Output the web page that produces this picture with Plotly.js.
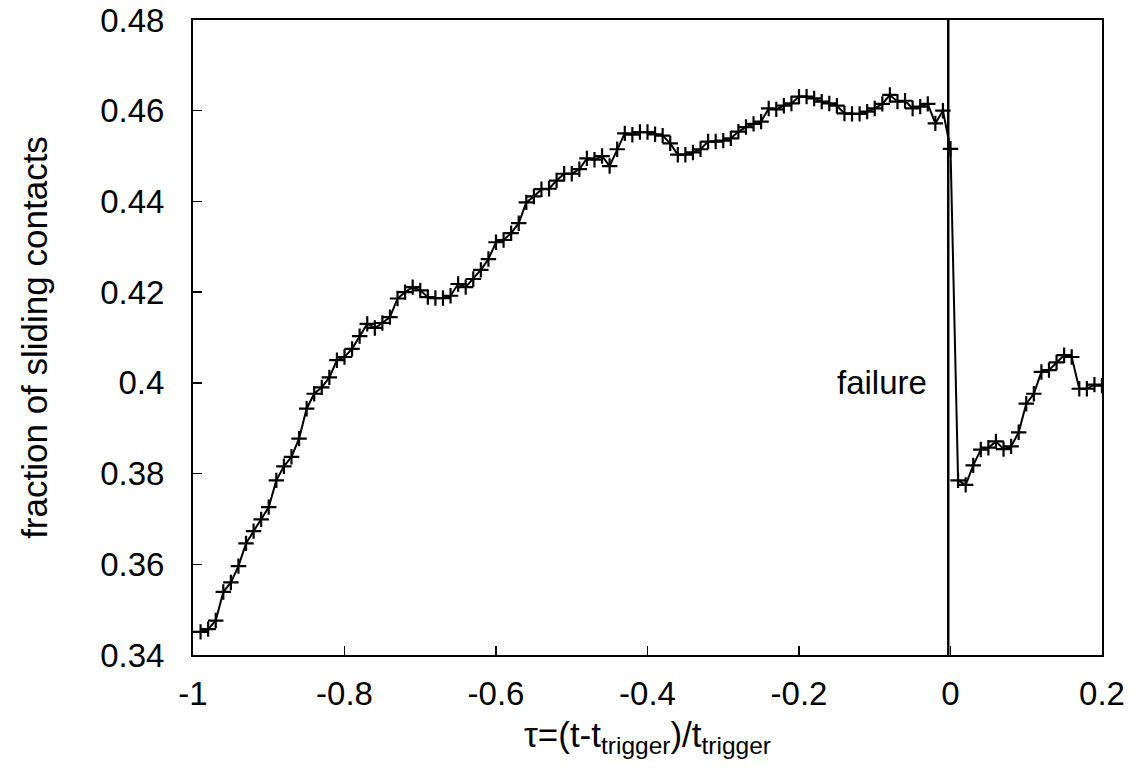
<!DOCTYPE html>
<html>
<head>
<meta charset="utf-8">
<script src="https://cdn.plot.ly/plotly-3.0.1.min.js"></script>
<style>html,body{margin:0;padding:0;background:#fff;}#chart{width:1140px;height:770px;}</style>
</head>
<body>
<div id="chart"></div>
<script>
const tau = [
 -0.99,-0.98,-0.97,-0.96,-0.95,-0.94,-0.93,-0.92,-0.91,-0.90,
 -0.89,-0.88,-0.87,-0.86,-0.85,-0.84,-0.83,-0.82,-0.81,-0.80,
 -0.79,-0.78,-0.77,-0.76,-0.75,-0.74,-0.73,-0.72,-0.71,-0.70,
 -0.69,-0.68,-0.67,-0.66,-0.65,-0.64,-0.63,-0.62,-0.61,-0.60,
 -0.59,-0.58,-0.57,-0.56,-0.55,-0.54,-0.53,-0.52,-0.51,-0.50,
 -0.49,-0.48,-0.47,-0.46,-0.45,-0.44,-0.43,-0.42,-0.41,-0.40,
 -0.39,-0.38,-0.37,-0.36,-0.35,-0.34,-0.33,-0.32,-0.31,-0.30,
 -0.29,-0.28,-0.27,-0.26,-0.25,-0.24,-0.23,-0.22,-0.21,-0.20,
 -0.19,-0.18,-0.17,-0.16,-0.15,-0.14,-0.13,-0.12,-0.11,-0.10,
 -0.09,-0.08,-0.07,-0.06,-0.05,-0.04,-0.03,-0.02,-0.01,0.00,
 0.01,0.02,0.03,0.04,0.05,0.06,0.07,0.08,0.09,0.10,
 0.11,0.12,0.13,0.14,0.15,0.16,0.17,0.18,0.19,0.20
];
const slidingFraction = [
 0.3451,0.3457,0.3476,0.3539,0.3560,0.3596,0.3646,0.3673,0.3699,0.3726,
 0.3785,0.3816,0.3837,0.3877,0.3943,0.3976,0.3990,0.4012,0.4050,0.4057,
 0.4075,0.4103,0.4130,0.4121,0.4132,0.4145,0.4186,0.4200,0.4211,0.4204,
 0.4189,0.4187,0.4187,0.4192,0.4218,0.4211,0.4229,0.4249,0.4273,0.4310,
 0.4315,0.4330,0.4352,0.4398,0.4411,0.4427,0.4428,0.4446,0.4461,0.4461,
 0.4471,0.4495,0.4492,0.4500,0.4478,0.4515,0.4550,0.4547,0.4553,0.4553,
 0.4548,0.4545,0.4528,0.4503,0.4503,0.4508,0.4515,0.4532,0.4532,0.4534,
 0.4539,0.4554,0.4564,0.4571,0.4576,0.4605,0.4603,0.4611,0.4616,0.4631,
 0.4631,0.4627,0.4620,0.4616,0.4611,0.4594,0.4593,0.4593,0.4598,0.4605,
 0.4615,0.4635,0.4620,0.4622,0.4605,0.4609,0.4615,0.4572,0.4600,0.4516,
 0.3785,0.3775,0.3818,0.3853,0.3857,0.3871,0.3854,0.3860,0.3891,0.3954,
 0.3976,0.4024,0.4028,0.4045,0.4061,0.4057,0.3987,0.3987,0.3996,0.3994
];
const xTickVals = [-1,-0.8,-0.6,-0.4,-0.2,0,0.2];
const xTickText = ["-1","-0.8","-0.6","-0.4","-0.2","0","0.2"];
const yTickVals = [0.34,0.36,0.38,0.40,0.42,0.44,0.46,0.48];
const yTickText = ["0.34","0.36","0.38","0.4","0.42","0.44","0.46","0.48"];
const failureTau = -0.003;
const failureLabel = "failure";

const font = {family: "Liberation Sans, Arial, Helvetica, sans-serif", color: "#000"};
const f = s => Object.assign({size: s}, font);

const trace = {
  x: tau, y: slidingFraction, type: "scatter", mode: "lines+markers",
  line: {color: "#000", width: 2},
  marker: {symbol: "cross-thin", size: 11, color: "#000", line: {color: "#000", width: 2.2}},
  showlegend: false, hoverinfo: "x+y"
};

const layout = {
  width: 1140, height: 770,
  margin: {l: 193, r: 38, t: 20, b: 115, pad: 0},
  paper_bgcolor: "#fff", plot_bgcolor: "#fff",
  font: f(33),
  xaxis: {
    range: [-1, 0.2], tickvals: xTickVals, ticktext: xTickText,
    ticks: "inside", ticklen: 9, tickwidth: 1.5, tickcolor: "#000",
    showline: true, linecolor: "#000", linewidth: 2, mirror: true,
    showgrid: false, zeroline: false, ticklabelstandoff: 8,
    tickfont: f(33),
    title: {text: "τ=(t-t<sub>trigger</sub>)/t<sub>trigger</sub>", font: f(35), standoff: 12}
  },
  yaxis: {
    range: [0.34, 0.48], tickvals: yTickVals, ticktext: yTickText,
    ticks: "inside", ticklen: 9, tickwidth: 1.5, tickcolor: "#000",
    showline: true, linecolor: "#000", linewidth: 2, mirror: true,
    showgrid: false, zeroline: false, ticklabelstandoff: 20,
    tickfont: f(33),
    title: {text: "fraction of sliding contacts", font: f(35), standoff: 42}
  },
  shapes: [{
    type: "line", xref: "x", yref: "paper", x0: failureTau, x1: failureTau, y0: 0, y1: 1,
    line: {color: "#000", width: 2.5}
  }],
  annotations: [{
    x: -0.028, y: 0.40, xref: "x", yref: "y", text: failureLabel, showarrow: false,
    xanchor: "right", yanchor: "middle", font: f(33)
  }]
};

Plotly.newPlot("chart", [trace], layout, {displayModeBar: false, staticPlot: true});
</script>
</body>
</html>
